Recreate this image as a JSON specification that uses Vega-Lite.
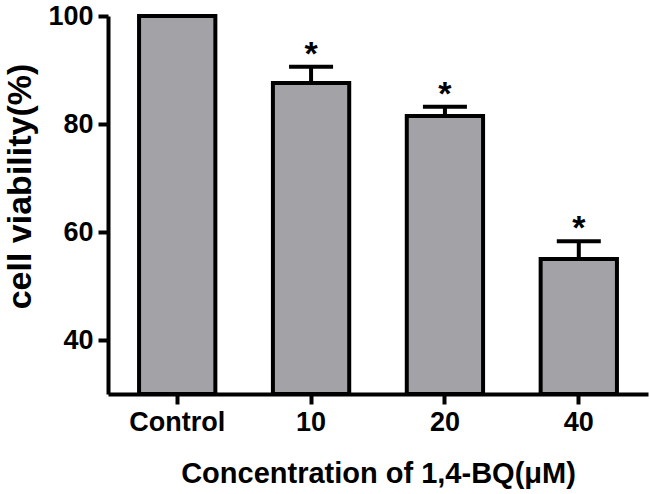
{
  "$schema": "https://vega.github.io/schema/vega-lite/v6.json",
  "width": 540,
  "height": 378,
  "autosize": {"type": "none"},
  "padding": {"left": 108, "top": 16, "right": 2, "bottom": 100},
  "background": "white",
  "config": {
    "view": {"stroke": null},
    "font": "Liberation Sans",
    "axis": {
      "domainColor": "black",
      "domainWidth": 4,
      "tickColor": "black",
      "tickWidth": 4,
      "tickSize": 10,
      "labelFont": "Liberation Sans",
      "labelFontWeight": "bold",
      "labelFontSize": 27,
      "labelColor": "black",
      "titleFont": "Liberation Sans",
      "titleFontWeight": "bold",
      "titleFontSize": 29,
      "titleColor": "black",
      "grid": false
    }
  },
  "data": {
    "values": [
      {"group": "Control", "viability": 100, "upper": null, "mark": ""},
      {"group": "10", "viability": 87.6, "upper": 90.6, "mark": "*"},
      {"group": "20", "viability": 81.5, "upper": 83.2, "mark": "*"},
      {"group": "40", "viability": 55.0, "upper": 58.3, "mark": "*"}
    ]
  },
  "encoding": {
    "x": {
      "field": "group",
      "type": "nominal",
      "sort": ["Control", "10", "20", "40"],
      "scale": {"paddingInner": 0.43, "paddingOuter": 0.232},
      "axis": {"title": "Concentration of 1,4-BQ(μM)", "labelAngle": 0, "labelPadding": 5, "titlePadding": 24}
    }
  },
  "layer": [
    {
      "mark": {"type": "rule", "color": "black", "strokeWidth": 4},
      "transform": [{"filter": "datum.upper != null"}],
      "encoding": {
        "y": {"field": "viability", "type": "quantitative"},
        "y2": {"field": "upper"}
      }
    },
    {
      "mark": {"type": "tick", "color": "black", "thickness": 4, "size": 44, "orient": "horizontal", "opacity": 1},
      "transform": [{"filter": "datum.upper != null"}],
      "encoding": {
        "y": {"field": "upper", "type": "quantitative"}
      }
    },
    {
      "mark": {"type": "bar", "fill": "#a3a2a7", "stroke": "black", "strokeWidth": 4},
      "encoding": {
        "y": {
          "field": "viability",
          "type": "quantitative",
          "scale": {"domain": [30, 100], "zero": false, "nice": false},
          "axis": {"title": "cell viability(%)", "values": [40, 60, 80, 100], "labelPadding": 5, "titlePadding": 10, "titleFontSize": 34, "titleY": 170}
        },
        "y2": {"datum": 30}
      }
    },
    {
      "mark": {"type": "text", "fontSize": 34, "fontWeight": "bold", "baseline": "alphabetic", "dy": -2, "color": "black"},
      "transform": [{"filter": "datum.upper != null"}],
      "encoding": {
        "y": {"field": "upper", "type": "quantitative"},
        "text": {"field": "mark"}
      }
    }
  ]
}
